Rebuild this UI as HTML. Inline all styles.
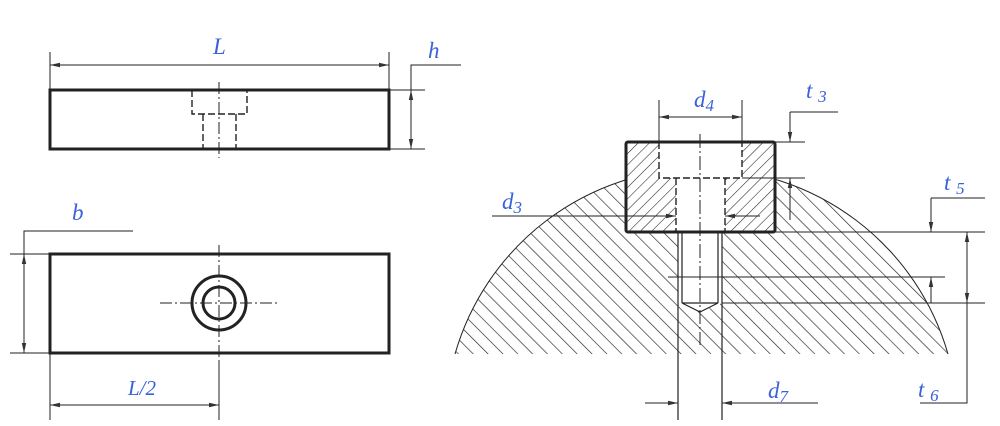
<!DOCTYPE html>
<html><head><meta charset="utf-8"><style>
body{margin:0;background:#fff}
svg{display:block}
text{font-family:"Liberation Serif",serif;font-style:italic;fill:#3a62d8;font-size:23px}
</style></head><body>
<svg width="1000" height="426" viewBox="0 0 1000 426" xmlns="http://www.w3.org/2000/svg">
<defs>
<marker id="a" viewBox="0 0 10 6" refX="10" refY="3" markerWidth="10" markerHeight="6" orient="auto-start-reverse" markerUnits="userSpaceOnUse"><path d="M0,0.8 L10,3 L0,5.2z" fill="#333"/></marker>
<clipPath id="big"><path d="M455,354 A256.5,256.5 0 0 1 948,354 Z"/></clipPath>
<clipPath id="blk"><path clip-rule="evenodd" d="M626,142 H775 V232 H626 Z M659,142 H742 V178 H725 V232 H676 V178 H659 Z"/></clipPath>
<pattern id="hb" patternUnits="userSpaceOnUse" width="10.5" height="10.5" patternTransform="rotate(-45)">
<line x1="0" y1="0" x2="0" y2="10.5" stroke="#222" stroke-width="1.3"/>
</pattern>
<pattern id="hs" patternUnits="userSpaceOnUse" width="8" height="8" patternTransform="rotate(45)">
<line x1="0" y1="0" x2="0" y2="8" stroke="#222" stroke-width="1.1"/>
</pattern>
</defs>
<g stroke="#222" fill="none" stroke-width="1">
<rect x="440" y="170" width="520" height="190" fill="url(#hb)" stroke="none" clip-path="url(#big)"/>
<path d="M455,354 A256.5,256.5 0 0 1 948,354"/>
<rect x="626" y="142" width="149" height="90" fill="#fff" stroke="none"/>
<path d="M678,230 H722 V303 L700,312 L678,303 Z" fill="#fff" stroke="none"/>
<rect x="626" y="142" width="149" height="90" fill="url(#hs)" stroke="none" clip-path="url(#blk)"/>
<rect x="626" y="142" width="149" height="90" stroke-width="3" rx="2"/>
<path d="M659,142 V178 H742 V142 M676,178 V232 M725,178 V232" stroke-dasharray="7,3" stroke-width="1.4"/>
<path d="M700,134 V345" stroke-dasharray="14,3,2,3"/>
<path d="M678,232 V420 M722,232 V420 M682,232 V303 M718,232 V303 M682,303 L700,312 L718,303 M682,303 H718" stroke-width="1.2"/>
<path d="M668,277 H945 M722,303 H985 M775,232 H985 M931,198 H985"/>
<path d="M931,198 V232" marker-end="url(#a)"/>
<path d="M931,303 V277" marker-end="url(#a)"/>
<path d="M967,232 V303" marker-start="url(#a)" marker-end="url(#a)"/>
<path d="M967,303 V403 H920"/>
<path d="M659,100 V142 M742,100 V142"/>
<path d="M659,117 H742" marker-start="url(#a)" marker-end="url(#a)"/>
<path d="M775,142 H805 M742,178 H805 M790,112 H838"/>
<path d="M790,112 V142" marker-end="url(#a)"/>
<path d="M790,220 V178" marker-end="url(#a)"/>
<path d="M492,216 H676" marker-end="url(#a)"/>
<path d="M760,216 H725" marker-end="url(#a)"/>
<path d="M645,403 H678" marker-end="url(#a)"/>
<path d="M818,403 H722" marker-end="url(#a)"/>
<rect x="50" y="90" width="339" height="59" stroke-width="3"/>
<path d="M192,90 V114 H247 V90 M203,114 V149 M236,114 V149" stroke-dasharray="7,3" stroke-width="1.4"/>
<path d="M219,82 V158" stroke-dasharray="12,3,2,3"/>
<path d="M50,52 V90 M389,52 V90"/>
<path d="M50,65 H389" marker-start="url(#a)" marker-end="url(#a)"/>
<path d="M389,90 H425 M389,149 H425 M411,90 V65 H461"/>
<path d="M411,90 V149" marker-start="url(#a)" marker-end="url(#a)"/>
<rect x="50" y="254" width="339" height="99" stroke-width="3"/>
<circle cx="219" cy="303" r="27" stroke-width="3"/>
<circle cx="219" cy="303" r="16" stroke-width="3"/>
<path d="M160,303 H278 M219,245 V360" stroke-dasharray="12,3,2,3"/>
<path d="M219,360 V420 M50,353 V420"/>
<path d="M50,405 H219" marker-start="url(#a)" marker-end="url(#a)"/>
<path d="M10,254 H50 M10,353 H50 M24,254 V231 H133"/>
<path d="M24,254 V353" marker-start="url(#a)" marker-end="url(#a)"/>
</g>
<text x="213" y="54">L</text>
<text x="428" y="58">h</text>
<text x="72" y="220">b</text>
<text x="128" y="395" style="font-size:21px">L/2</text>
<text x="694" y="107">d<tspan font-size="17" dy="4">4</tspan></text>
<text x="806" y="98">t <tspan font-size="17" dy="4">3</tspan></text>
<text x="502" y="209">d<tspan font-size="17" dy="4">3</tspan></text>
<text x="944" y="190">t <tspan font-size="17" dy="4">5</tspan></text>
<text x="768" y="398">d<tspan font-size="17" dy="4">7</tspan></text>
<text x="918" y="397">t <tspan font-size="17" dy="4">6</tspan></text>
</svg>
</body></html>
